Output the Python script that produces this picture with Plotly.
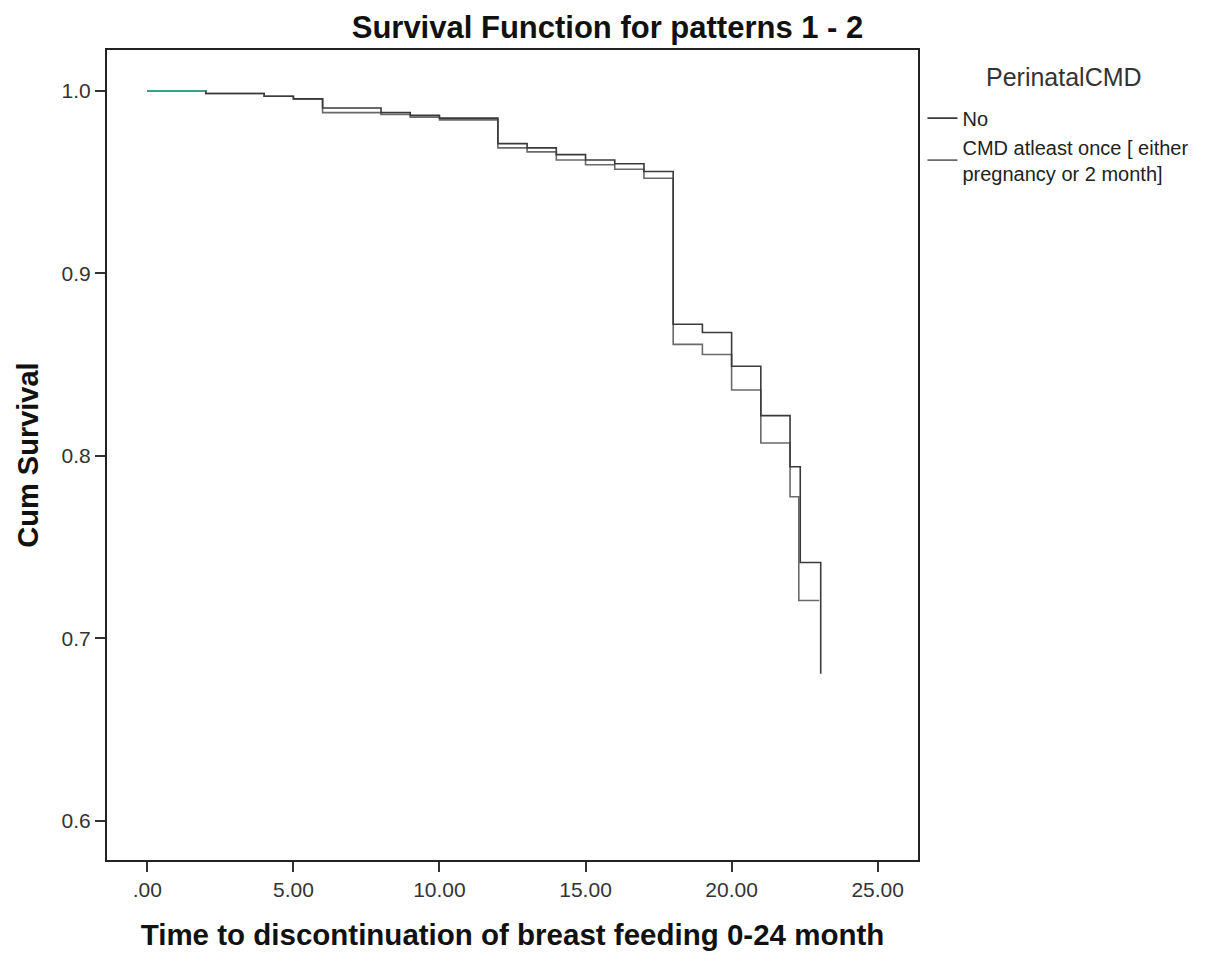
import plotly.graph_objects as go

# Kaplan-Meier step data (time in months, cumulative survival)
time_no = [0, 2, 4, 5, 6, 8, 9, 10, 12, 13, 14, 15, 16, 17, 18, 19, 20, 21, 22, 22.35, 23.05]
surv_no = [1.0, 0.9985, 0.997, 0.9955, 0.9905, 0.988, 0.9865, 0.985, 0.971, 0.9687,
           0.965, 0.962, 0.960, 0.9557, 0.872, 0.8675, 0.849, 0.822, 0.794, 0.7415, 0.6805]

time_cmd = [0, 2, 4, 5, 6, 8, 9, 10, 12, 13, 14, 15, 16, 17, 18, 19, 20, 21, 22, 22.3, 23]
surv_cmd = [1.0, 0.9985, 0.997, 0.9955, 0.988, 0.987, 0.9855, 0.984, 0.9687, 0.9665,
            0.962, 0.9594, 0.957, 0.952, 0.861, 0.8555, 0.836, 0.807, 0.7775, 0.7207, 0.7207]

series_names = ["No", "CMD atleast once [ either<br>pregnancy or 2 month]"]
legend_title = "PerinatalCMD"

x_tick_vals = [0, 5, 10, 15, 20, 25]
x_tick_text = [".00", "5.00", "10.00", "15.00", "20.00", "25.00"]
y_tick_vals = [0.6, 0.7, 0.8, 0.9, 1.0]
y_tick_text = ["0.6", "0.7", "0.8", "0.9", "1.0"]

FONT = "Liberation Sans, Arial, sans-serif"

fig = go.Figure()
fig.add_trace(go.Scatter(x=time_cmd, y=surv_cmd, mode="lines", line_shape="hv",
                         name=series_names[1], line=dict(color="#6a6a6a", width=1.6),
                         legendrank=2))
fig.add_trace(go.Scatter(x=time_no, y=surv_no, mode="lines", line_shape="hv",
                         name=series_names[0], line=dict(color="#3a3a3a", width=1.6),
                         legendrank=1))
# first common segment (rendered teal in the original)
fig.add_trace(go.Scatter(x=time_no[0:2], y=[surv_no[0], surv_no[0]], mode="lines",
                         line=dict(color="#3aa58a", width=1.6), showlegend=False,
                         hoverinfo="skip"))

# page body has an 8px margin: figure is shrunk/offset accordingly
fig.update_layout(
    width=1199, height=953,
    paper_bgcolor="white", plot_bgcolor="white",
    margin=dict(l=99, r=289, t=42, b=101, autoexpand=False),
    font=dict(family=FONT, color="#222222"),
    title=dict(text="<b>Survival Function for patterns 1 - 2</b>",
               x=0.5, xref="container", xanchor="center",
               y=0.980, yref="container", yanchor="middle",
               font=dict(size=31, color="#111111")),
    showlegend=True,
    legend=dict(x=1.0055, xanchor="left", y=0.940, yanchor="top",
                bgcolor="rgba(0,0,0,0)", font=dict(size=20, color="#222222"),
                traceorder="normal", itemwidth=30, tracegroupgap=0),
    annotations=[dict(text=legend_title, xref="paper", yref="paper",
                      x=1.180, y=0.9667, xanchor="center", yanchor="middle",
                      showarrow=False, font=dict(size=25, color="#333333"))],
)
fig.update_xaxes(range=[-1.38, 26.38], tickvals=x_tick_vals, ticktext=x_tick_text,
                 ticks="outside", ticklen=10, tickwidth=1.5, tickcolor="#333333",
                 showline=True, linecolor="#222222", linewidth=2, mirror=True,
                 showgrid=False, zeroline=False,
                 tickfont=dict(size=21, color="#333333"),
                 title=dict(text="<b>Time to discontinuation of breast feeding 0-24 month</b>",
                            font=dict(size=29.5, color="#111111"), standoff=24))
fig.update_yaxes(range=[0.5785, 1.0223], tickvals=y_tick_vals, ticktext=y_tick_text,
                 ticks="outside", ticklen=10, tickwidth=1.5, tickcolor="#333333",
                 showline=True, linecolor="#222222", linewidth=2, mirror=True,
                 showgrid=False, zeroline=False,
                 tickfont=dict(size=21, color="#333333"),
                 title=dict(text="<b>Cum Survival</b>",
                            font=dict(size=29, color="#111111"), standoff=14))

fig.write_html("out.html")
